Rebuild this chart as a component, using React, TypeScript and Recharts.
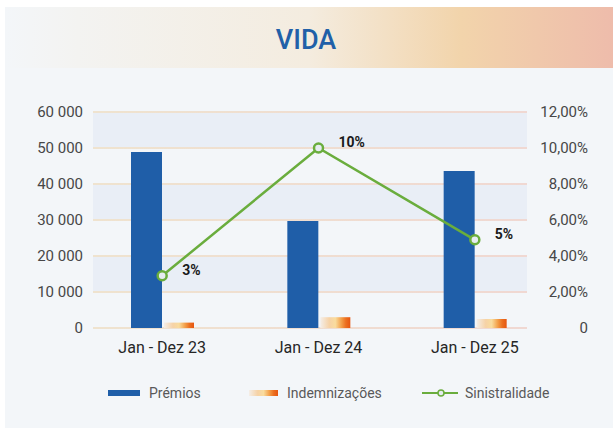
import React from 'react';
import { ComposedChart, Bar, Line, XAxis, YAxis, CartesianGrid, LabelList } from 'recharts';

const categories = ['Jan - Dez 23', 'Jan - Dez 24', 'Jan - Dez 25'];
const premios = [48900, 29700, 43600];
const indemnizacoes = [1500, 3000, 2500];
const sinistralidade = [2.9, 10.0, 4.9];
const sinistralidadeLabels = ['3%', '10%', '5%'];
const leftTicks = [0, 10000, 20000, 30000, 40000, 50000, 60000];
const rightTicks = [0, 2, 4, 6, 8, 10, 12];
const seriesNames = ['Prémios', 'Indemnizações', 'Sinistralidade'];
const title = 'VIDA';

const data = categories.map((c, i) => ({
  name: c,
  premios: premios[i],
  indem: indemnizacoes[i],
  sin: sinistralidade[i],
  label: sinistralidadeLabels[i],
}));

const FONT = 'Roboto, "Noto Sans", sans-serif';
const BLUE = '#1f5ea8';
const GREEN = '#6aad3d';

const fmtLeft = (v: number) => String(v).replace(/\B(?=(\d{3})+(?!\d))/g, ' ');
const fmtRight = (v: number) => (v === 0 ? '0' : v.toFixed(2).replace('.', ',') + '%');

const LeftTick = (props: any) => {
  const { x, y, payload } = props;
  return (
    <text x={x} y={y} dy="0.355em" textAnchor="end" fontFamily={FONT} fontSize={15} fill="#474747">
      {fmtLeft(payload.value)}
    </text>
  );
};

const RightTick = (props: any) => {
  const { x, y, payload } = props;
  return (
    <text x={x + 61} y={y} dy="0.355em" textAnchor="end" fontFamily={FONT} fontSize={15} fill="#474747">
      {fmtRight(payload.value)}
    </text>
  );
};

const XTick = (props: any) => {
  const { x, y, payload } = props;
  return (
    <text x={x} y={y} dy="0.71em" textAnchor="middle" fontFamily={FONT} fontSize={16} fill="#262626">
      {payload.value}
    </text>
  );
};

const LineLabel = (props: any) => {
  const { x, y, value } = props;
  return (
    <text x={x + 20} y={y - 6} dy="0.355em" textAnchor="start" fontFamily={FONT} fontSize={14} fontWeight={700} fill="#1a1a1a">
      {value}
    </text>
  );
};

const orangeGradient = 'linear-gradient(to right, #f4eee8 0%, #f6d2a6 30%, #f9dc9e 50%, #f3a04a 70%, #ec7020 85%, #e65510 100%)';

export default function App() {
  return (
    <div style={{ position: 'absolute', left: 0, top: 0, width: 613, height: 428, background: '#ffffff', overflow: 'hidden', fontFamily: FONT }}>
      <div style={{ position: 'absolute', left: 5, top: 7, width: 608, height: 421, background: '#f3f6f9' }} />
      <div
        style={{
          position: 'absolute', left: 5, top: 7, width: 608, height: 61,
          background: 'linear-gradient(to right, #f3f6f9 0%, #f3f3f1 12%, #f4ecdf 50%, #f2d4ab 75%, #eebcab 100%)',
        }}
      />
      <div style={{ position: 'absolute', left: 0, top: 27, width: 612, textAlign: 'center', fontSize: 27, lineHeight: '26px', fontWeight: 500, color: '#2160a8', fontFamily: FONT }}>
        {title}
      </div>
      <div style={{ position: 'absolute', left: 0, top: 0 }}>
        <ComposedChart width={613} height={428} data={data} margin={{ top: 112, right: 0, bottom: 60, left: 0 }} barGap={2}>
          <defs>
            <linearGradient id="gridGrad" gradientUnits="userSpaceOnUse" x1={93} y1={0} x2={527} y2={0}>
              <stop offset="0%" stopColor="#efe3cf" />
              <stop offset="100%" stopColor="#f0d8d2" />
            </linearGradient>
            <linearGradient id="orangeGrad" x1="0" y1="0" x2="1" y2="0">
              <stop offset="0%" stopColor="#f4eee8" />
              <stop offset="30%" stopColor="#f6d2a6" />
              <stop offset="50%" stopColor="#f9dc9e" />
              <stop offset="70%" stopColor="#f3a04a" />
              <stop offset="85%" stopColor="#ec7020" />
              <stop offset="100%" stopColor="#e65510" />
            </linearGradient>
          </defs>
          <CartesianGrid
            yAxisId="left"
            vertical={false}
            stroke="url(#gridGrad)"
            strokeWidth={2}
            horizontalFill={['#e9eef6', 'transparent']}
          />
          <XAxis
            dataKey="name"
            height={40}
            axisLine={false}
            tickLine={false}
            tickSize={0}
            tickMargin={14}
            tick={<XTick />}
            padding={{ left: -9, right: -26 }}
            interval={0}
          />
          <YAxis
            yAxisId="left"
            orientation="left"
            width={93}
            domain={[0, 60000]}
            ticks={leftTicks}
            axisLine={false}
            tickLine={false}
            tickSize={0}
            tickMargin={10}
            tick={<LeftTick />}
            interval={0}
          />
          <YAxis
            yAxisId="right"
            orientation="right"
            width={86}
            domain={[0, 12]}
            ticks={rightTicks}
            axisLine={false}
            tickLine={false}
            tickSize={0}
            tickMargin={0}
            tick={<RightTick />}
            interval={0}
          />
          <Bar yAxisId="left" dataKey="premios" name={seriesNames[0]} fill={BLUE} barSize={31} isAnimationActive={false} />
          <Bar yAxisId="left" dataKey="indem" name={seriesNames[1]} fill="url(#orangeGrad)" barSize={30} isAnimationActive={false} />
          <Line
            yAxisId="right"
            dataKey="sin"
            name={seriesNames[2]}
            stroke={GREEN}
            strokeWidth={2.5}
            dot={{ r: 4.5, fill: '#e6ecf1', stroke: GREEN, strokeWidth: 2.5 }}
            activeDot={false}
            isAnimationActive={false}
          >
            <LabelList dataKey="label" content={<LineLabel />} />
          </Line>
        </ComposedChart>
      </div>
      <div style={{ position: 'absolute', left: 108, top: 390, width: 32, height: 6, background: BLUE }} />
      <div style={{ position: 'absolute', left: 149, top: 384, fontSize: 14, lineHeight: '18px', color: '#595959' }}>{seriesNames[0]}</div>
      <div style={{ position: 'absolute', left: 249, top: 390, width: 29, height: 6, background: orangeGradient }} />
      <div style={{ position: 'absolute', left: 287, top: 384, fontSize: 14, lineHeight: '18px', color: '#595959' }}>{seriesNames[1]}</div>
      <svg style={{ position: 'absolute', left: 422, top: 386 }} width={36} height={14}>
        <line x1={0} y1={7} x2={36} y2={7} stroke={GREEN} strokeWidth={2} />
        <circle cx={19} cy={7} r={3} fill="#e6ecf1" stroke={GREEN} strokeWidth={1.5} />
      </svg>
      <div style={{ position: 'absolute', left: 465, top: 384, fontSize: 14, lineHeight: '18px', color: '#595959' }}>{seriesNames[2]}</div>
    </div>
  );
}
